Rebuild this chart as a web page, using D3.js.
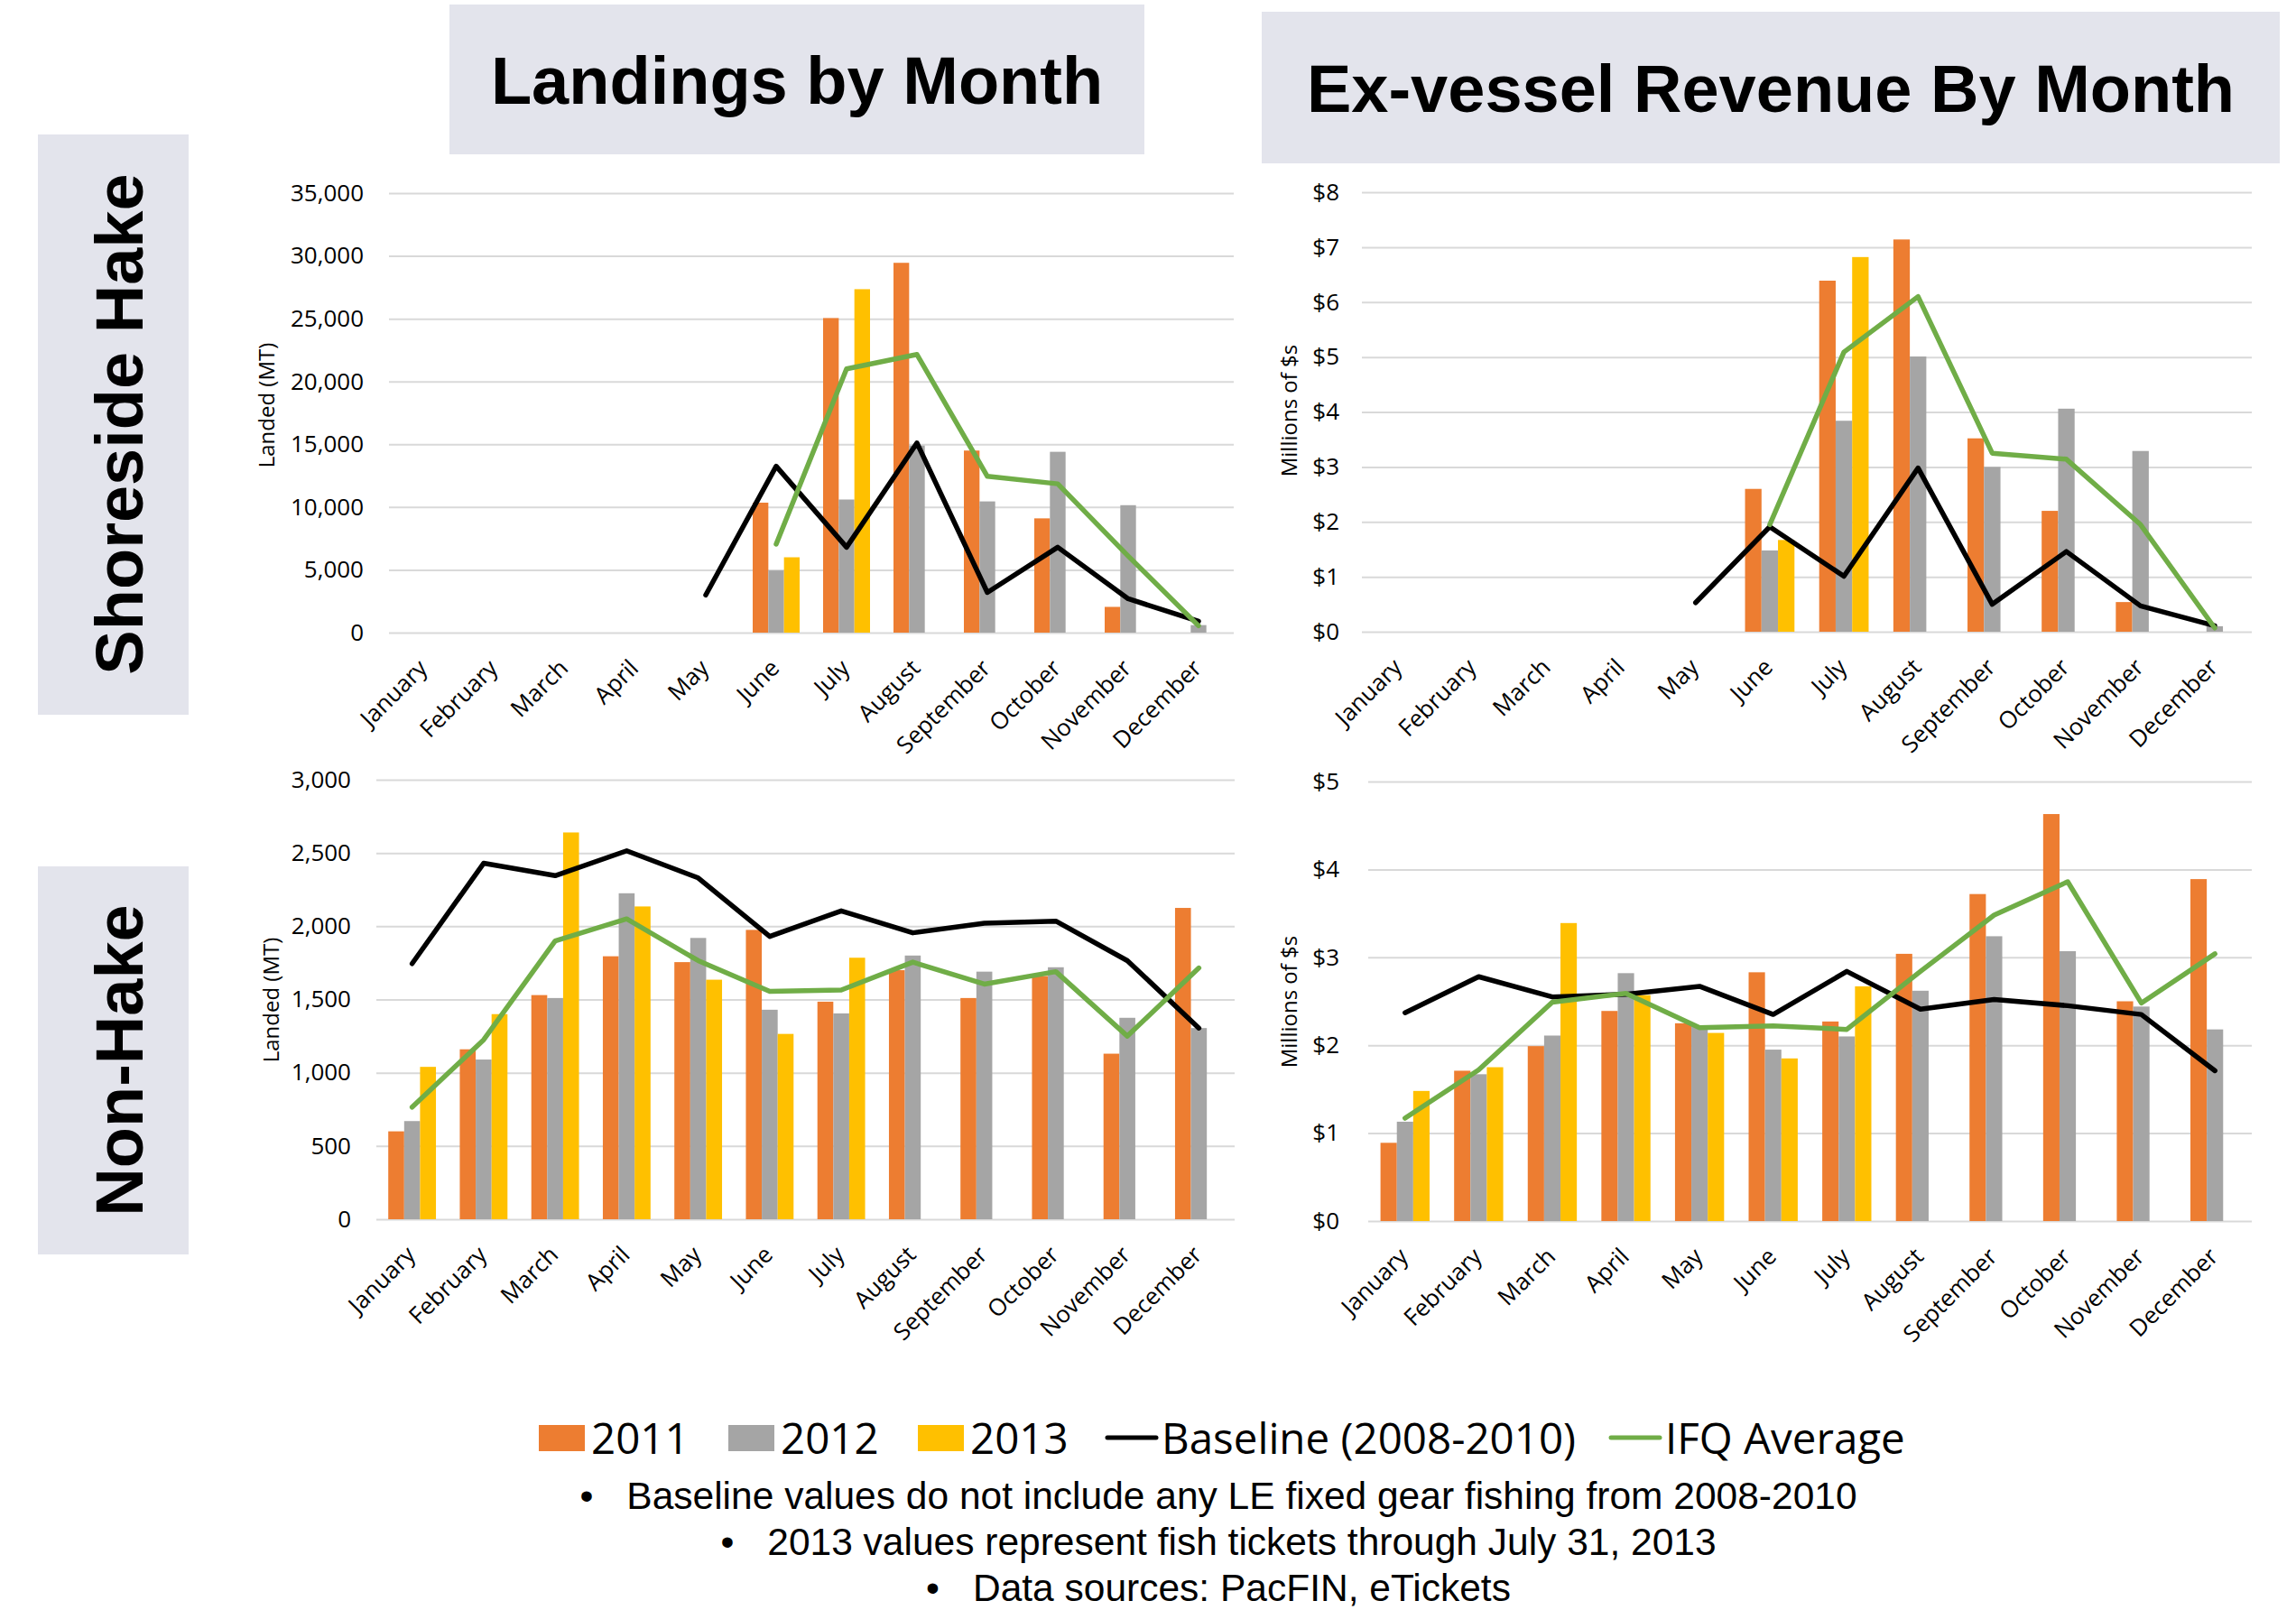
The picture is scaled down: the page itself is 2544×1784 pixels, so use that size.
<!DOCTYPE html>
<html>
<head>
<meta charset="utf-8">
<script src="https://cdn.jsdelivr.net/npm/d3@7"></script>
<style>
  body { margin: 0; background: #fff; }
  svg { display: block; }
</style>
</head>
<body>
<div id="chart"></div>
<script>
// categories
var months = ["January", "February", "March", "April", "May", "June",
  "July", "August", "September", "October", "November", "December"];
var years = ["2011", "2012", "2013"];

// Shoreside hake landings (MT)
var hakeLand2011 = [null, null, null, null, null, 10350, 25050, 29450, 14500, 9100, 2050, null];
var hakeLand2012 = [null, null, null, null, null, 4950, 10600, 14900, 10450, 14400, 10150, 600];
var hakeLand2013 = [null, null, null, null, null, 6000, 27350, null, null, null, null, null];
var hakeLandBase = [null, null, null, null, 3000, 13250, 6800, 15100, 3200, 6800, 2700, 900];
var hakeLandIfq  = [null, null, null, null, null, 7050, 21000, 22150, 12450, 11850, 6100, 550];

// Shoreside hake ex-vessel revenue (millions of $)
var hakeRev2011 = [null, null, null, null, null, 2.6, 6.39, 7.14, 3.52, 2.2, 0.54, null];
var hakeRev2012 = [null, null, null, null, null, 1.48, 3.84, 5.01, 3.0, 4.06, 3.29, 0.1];
var hakeRev2013 = [null, null, null, null, null, 1.67, 6.82, null, null, null, null, null];
var hakeRevBase = [null, null, null, null, 0.53, 1.91, 1.01, 2.98, 0.5, 1.46, 0.47, 0.11];
var hakeRevIfq  = [null, null, null, null, null, 1.95, 5.09, 6.1, 3.25, 3.14, 1.95, 0.07];

// Non-hake landings (MT)
var nonLand2011 = [600, 1160, 1530, 1795, 1755, 1975, 1485, 1700, 1510, 1660, 1130, 2125];
var nonLand2012 = [670, 1090, 1510, 2225, 1920, 1430, 1405, 1800, 1690, 1720, 1375, 1305];
var nonLand2013 = [1040, 1400, 2640, 2135, 1635, 1265, 1785, null, null, null, null, null];
var nonLandBase = [1745, 2430, 2345, 2515, 2330, 1930, 2105, 1955, 2020, 2035, 1765, 1305];
var nonLandIfq  = [765, 1225, 1900, 2050, 1765, 1555, 1565, 1755, 1605, 1690, 1250, 1715];

// Non-hake ex-vessel revenue (millions of $)
var nonRev2011 = [0.89, 1.71, 1.99, 2.39, 2.25, 2.83, 2.27, 3.04, 3.72, 4.63, 2.5, 3.89];
var nonRev2012 = [1.13, 1.67, 2.11, 2.82, 2.22, 1.95, 2.1, 2.62, 3.24, 3.07, 2.44, 2.18];
var nonRev2013 = [1.48, 1.75, 3.39, 2.57, 2.14, 1.85, 2.67, null, null, null, null, null];
var nonRevBase = [2.37, 2.78, 2.55, 2.58, 2.67, 2.35, 2.84, 2.41, 2.52, 2.45, 2.35, 1.71];
var nonRevIfq  = [1.17, 1.72, 2.49, 2.59, 2.2, 2.22, 2.18, 2.84, 3.48, 3.86, 2.48, 3.04];

// tick values
var hakeLandTicks = [0, 5000, 10000, 15000, 20000, 25000, 30000, 35000];
var hakeRevTicks = [0, 1, 2, 3, 4, 5, 6, 7, 8];
var nonLandTicks = [0, 500, 1000, 1500, 2000, 2500, 3000];
var nonRevTicks = [0, 1, 2, 3, 4, 5];

var legendLabels = ["2011", "2012", "2013", "Baseline (2008-2010)", "IFQ Average"];
var notes = [
  "Baseline values do not include any LE fixed gear fishing from 2008-2010",
  "2013 values represent fish tickets through July 31, 2013",
  "Data sources: PacFIN, eTickets"
];

var barColors = ["#ED7D31", "#A5A5A5", "#FFC000"];
var baseColor = "#000000";
var ifqColor = "#70AD47";
var gridColor = "#D9D9D9";
var boxFill = "#E3E4EC";
var chartFont = "'Open Sans', 'Noto Sans', sans-serif";
var titleFont = "'Liberation Sans', Arial, sans-serif";

var width = 2544, height = 1784;

var svg = d3.select("#chart").append("svg")
  .attr("width", width)
  .attr("height", height);

// header boxes
function headerBox(x, y, w, h, label, tx, ty, rotate) {
  svg.append("rect").attr("x", x).attr("y", y).attr("width", w).attr("height", h)
    .attr("fill", boxFill);
  var t = svg.append("text")
    .attr("font-family", titleFont)
    .attr("font-weight", "bold")
    .attr("font-size", 74)
    .attr("text-anchor", "middle")
    .text(label);
  if (rotate) t.attr("transform", "translate(" + tx + "," + ty + ") rotate(-90)");
  else t.attr("x", tx).attr("y", ty);
}
headerBox(498, 5, 770, 166, "Landings by Month", 883, 115, false);
headerBox(1398, 13, 1128, 168, "Ex-vessel Revenue By Month", 1962, 124, false);
headerBox(42, 149, 167, 643, "Shoreside Hake", 158, 470, true);
headerBox(42, 960, 167, 430, "Non-Hake", 158, 1175, true);

function drawPanel(p) {
  var x0 = d3.scaleBand().domain(months).range([p.left, p.right])
    .paddingInner(1 / 3).paddingOuter(1 / 6);
  var x1 = d3.scaleBand().domain(years).range([0, x0.bandwidth()]);
  var y = d3.scaleLinear().domain([0, p.max]).range([p.bottom, p.top]);

  // gridlines and y labels
  svg.append("g")
    .attr("transform", "translate(" + p.left + ",0)")
    .call(d3.axisLeft(y).tickValues(p.ticks).tickSize(-(p.right - p.left))
      .tickPadding(p.pad).tickFormat(p.fmt))
    .attr("font-family", chartFont)
    .attr("font-size", 26)
    .call(function(g) { g.select(".domain").remove(); })
    .call(function(g) { g.selectAll(".tick line").attr("stroke", gridColor).attr("stroke-width", 2); })
    .call(function(g) { g.selectAll(".tick text").attr("fill", "#000"); });

  // x labels
  svg.append("g")
    .attr("transform", "translate(0," + p.bottom + ")")
    .call(d3.axisBottom(x0).tickSize(0))
    .attr("font-family", chartFont)
    .attr("font-size", 26)
    .call(function(g) { g.select(".domain").remove(); })
    .call(function(g) {
      g.selectAll(".tick text")
        .attr("fill", "#000")
        .attr("y", 0).attr("dy", 0)
        .attr("text-anchor", "end")
        .attr("transform", "translate(5,41) rotate(-45)");
    });

  // bars
  p.bars.forEach(function(vals, s) {
    svg.append("g").selectAll("rect")
      .data(vals.map(function(v, i) { return { m: months[i], v: v }; })
        .filter(function(d) { return d.v != null && d.v > 0; }))
      .enter().append("rect")
      .attr("x", function(d) { return x0(d.m) + x1(years[s]); })
      .attr("y", function(d) { return y(d.v); })
      .attr("width", x1.bandwidth())
      .attr("height", function(d) { return y(0) - y(d.v); })
      .attr("fill", barColors[s]);
  });

  // lines
  var line = d3.line()
    .defined(function(d) { return d != null; })
    .x(function(d, i) { return x0(months[i]) + x0.bandwidth() / 2; })
    .y(function(d) { return y(d); });

  [[p.base, baseColor], [p.ifq, ifqColor]].forEach(function(l) {
    svg.append("path")
      .datum(l[0])
      .attr("d", line)
      .attr("fill", "none")
      .attr("stroke", l[1])
      .attr("stroke-width", 5.5)
      .attr("stroke-linejoin", "round")
      .attr("stroke-linecap", "round");
  });

  // axis title
  svg.append("text")
    .attr("transform", "translate(" + p.titleX + "," + p.titleY + ") rotate(-90)")
    .attr("text-anchor", "middle")
    .attr("font-family", chartFont)
    .attr("font-size", 24)
    .attr("fill", "#000")
    .text(p.title);
}

var fmtComma = d3.format(",");
var fmtDollar = function(d) { return "$" + d; };

drawPanel({ left: 431, right: 1367, top: 214, bottom: 701, max: 35000,
  ticks: hakeLandTicks, fmt: fmtComma, pad: 28,
  bars: [hakeLand2011, hakeLand2012, hakeLand2013], base: hakeLandBase, ifq: hakeLandIfq,
  title: "Landed (MT)", titleX: 304, titleY: 449 });

drawPanel({ left: 1509, right: 2495, top: 213, bottom: 700, max: 8,
  ticks: hakeRevTicks, fmt: fmtDollar, pad: 25,
  bars: [hakeRev2011, hakeRev2012, hakeRev2013], base: hakeRevBase, ifq: hakeRevIfq,
  title: "Millions of $s", titleX: 1437, titleY: 455 });

drawPanel({ left: 417, right: 1368, top: 864, bottom: 1351, max: 3000,
  ticks: nonLandTicks, fmt: fmtComma, pad: 28,
  bars: [nonLand2011, nonLand2012, nonLand2013], base: nonLandBase, ifq: nonLandIfq,
  title: "Landed (MT)", titleX: 309, titleY: 1108 });

drawPanel({ left: 1516, right: 2495, top: 866, bottom: 1353, max: 5,
  ticks: nonRevTicks, fmt: fmtDollar, pad: 32,
  bars: [nonRev2011, nonRev2012, nonRev2013], base: nonRevBase, ifq: nonRevIfq,
  title: "Millions of $s", titleX: 1437, titleY: 1110 });

// legend
var legend = svg.append("g")
  .attr("font-family", chartFont)
  .attr("font-size", 47.5)
  .attr("fill", "#000");
var legendX = [597, 807, 1017, 1227, 1785];
legendLabels.forEach(function(lab, i) {
  if (i < 3) {
    legend.append("rect").attr("x", legendX[i]).attr("y", 1579)
      .attr("width", 51).attr("height", 29).attr("fill", barColors[i]);
  } else {
    legend.append("line").attr("x1", legendX[i]).attr("x2", legendX[i] + 54)
      .attr("y1", 1593).attr("y2", 1593)
      .attr("stroke", i === 3 ? baseColor : ifqColor)
      .attr("stroke-width", 5).attr("stroke-linecap", "round");
  }
  legend.append("text").attr("x", legendX[i] + (i < 3 ? 58 : 60)).attr("y", 1611).text(lab);
});

// notes
var noteY = [1672, 1723, 1774];
notes.forEach(function(n, i) {
  var t = svg.append("text")
    .attr("x", 1350).attr("y", noteY[i])
    .attr("text-anchor", "middle")
    .attr("font-family", titleFont)
    .attr("font-size", 42.5)
    .attr("fill", "#000");
  t.append("tspan").text("\u2022");
  t.append("tspan").attr("dx", 37).text(n);
});
</script>
</body>
</html>
